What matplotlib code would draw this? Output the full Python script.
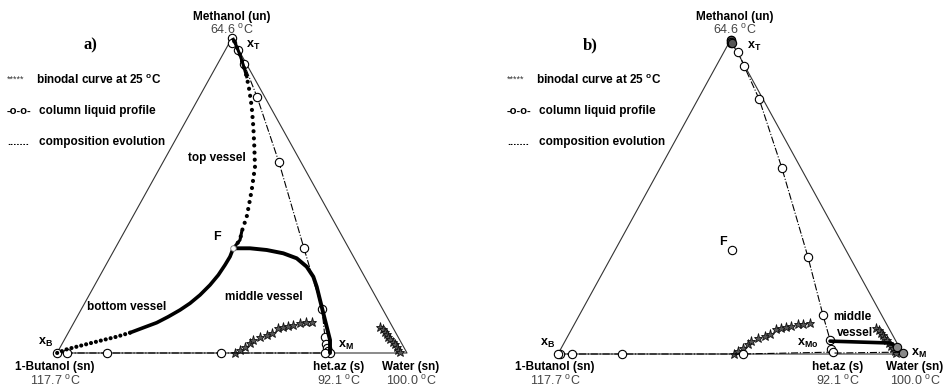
import numpy as np
import matplotlib.pyplot as plt

plt.rcParams['font.family'] = ['Liberation Sans', 'DejaVu Sans']
plt.rcParams['mathtext.fontset'] = 'custom'
plt.rcParams['mathtext.rm'] = 'Liberation Sans'
plt.rcParams['mathtext.bf'] = 'Liberation Sans:bold'

# compositions as (water, methanol) mole fractions, butanol = rest
binodal_org_w = [0.509, 0.518, 0.528, 0.535, 0.540, 0.556, 0.571, 0.583, 0.592, 0.604, 0.617, 0.630, 0.647, 0.662, 0.680]
binodal_org_m = [0.0, 0.0095, 0.019, 0.032, 0.041, 0.050, 0.057, 0.063, 0.079, 0.083, 0.086, 0.089, 0.095, 0.097, 0.098]
binodal_aq_w = [0.881, 0.893, 0.903, 0.912, 0.920, 0.931, 0.942, 0.952, 0.962, 0.970, 0.978]
binodal_aq_m = [0.083, 0.075, 0.067, 0.059, 0.051, 0.043, 0.035, 0.027, 0.019, 0.011, 0.003]

feed_w, feed_m = 0.3375, 0.3324

# panel a
prof_a_w = [0.0, 0.008, 0.036, 0.076, 0.165, 0.331, 0.539, 0.687, 0.740, 0.755, 0.765, 0.772, 0.78, 0.766, 0.469, 0.143, 0.029, 0.0]
prof_a_m = [1.0, 0.985, 0.962, 0.917, 0.813, 0.606, 0.333, 0.140, 0.051, 0.030, 0.015, 0.006, 0.0, 0.0, 0.0, 0.0, 0.0, 0.0]
top_a_w = [0.3375, 0.3435, 0.3352, 0.3257, 0.3118, 0.2976, 0.2700, 0.2363, 0.2017, 0.1653, 0.1320, 0.1034, 0.0751, 0.0499, 0.0272, 0.0057]
top_a_m = [0.3324, 0.3587, 0.3851, 0.4327, 0.4752, 0.5175, 0.5914, 0.6549, 0.7184, 0.7819, 0.8349, 0.8771, 0.9143, 0.9460, 0.9724, 0.9959]
bot_a_w = [0.3375, 0.3414, 0.3403, 0.3371, 0.3292, 0.3165, 0.3011, 0.2832, 0.2604, 0.2368, 0.2064, 0.1764]
bot_a_m = [0.3324, 0.3057, 0.2794, 0.2476, 0.2159, 0.1841, 0.1578, 0.1365, 0.1152, 0.0962, 0.0803, 0.0644]
bot_a_tail_w = [0.1764, 0.1447, 0.1116, 0.0789, 0.0463, 0.0219, 0.0]
bot_a_tail_m = [0.0644, 0.0517, 0.0413, 0.0308, 0.0200, 0.0117, 0.0]
mid_a_w = [0.3375, 0.3852, 0.4356, 0.4883, 0.5346, 0.5764, 0.6112, 0.6368, 0.6673, 0.6979, 0.7288, 0.7594, 0.78]
mid_a_m = [0.3324, 0.3324, 0.3270, 0.3165, 0.3006, 0.2740, 0.2422, 0.2105, 0.1683, 0.1260, 0.0835, 0.0413, 0.0]

# panel b
prof_b_w = [0.0, 0.005, 0.041, 0.081, 0.177, 0.353, 0.570, 0.706, 0.766, 0.785, 0.794, 0.536, 0.186, 0.041, 0.005, 0.0]
prof_b_m = [1.0, 0.99, 0.962, 0.917, 0.812, 0.592, 0.309, 0.124, 0.045, 0.015, 0.006, 0.0, 0.0, 0.0, 0.0, 0.0]
prof_b_aq_w = [0.80, 0.99]
prof_b_aq_m = [0.003, 0.006]
mid_b_w = [0.768, 0.856, 0.945, 0.972, 0.998]
mid_b_m = [0.041, 0.038, 0.035, 0.022, 0.003]
top_b_w = [0.0, 0.004, 0.008]
top_b_m = [1.0, 0.994, 0.99]

H = np.sqrt(3) / 2


def xy(w, m):
    w = np.asarray(w, float)
    m = np.asarray(m, float)
    return w + m / 2, m * H


W, Hpx = 945, 390
fig = plt.figure(figsize=(W / 100, Hpx / 100), dpi=100)


def fpos(px, py):
    return px / W, 1 - py / Hpx


def sub(base, s):
    return base + r'$_\mathbf{' + s + '}$'


deg = r'$^\mathrm{o}$C'
degb = r'$^\mathbf{o}$C'


def panel(box, tag, tagx, legx, labx):
    l, t, r, b = box
    ax = fig.add_axes([l / W, 1 - b / Hpx, (r - l) / W, (b - t) / Hpx])
    ax.set_xlim(0, 1)
    ax.set_ylim(0, H)
    ax.axis('off')
    ax.plot([0, 1, 0.5, 0], [0, 0, H, 0], color='#333333', lw=0.8, clip_on=False)
    for bw, bm in [(binodal_org_w, binodal_org_m), (binodal_aq_w, binodal_aq_m)]:
        x, y = xy(bw, bm)
        ax.plot(x, y, ls='none', marker='*', ms=6.5, color='#555555', mec='#111111', mew=0.6, clip_on=False)

    fig.text(*fpos(tagx, 45), tag, fontsize=12, fontweight='bold', family='Liberation Serif', ha='center', va='center')
    fig.text(*fpos(legx, 79), '*****', fontsize=6.5, color='#333333', va='center')
    fig.text(*fpos(legx + 29, 80), 'binodal curve at 25 ' + degb, fontsize=8.5, fontweight='bold', va='center')
    fig.text(*fpos(legx, 111), '-o-o-', fontsize=8, fontweight='bold', va='center')
    fig.text(*fpos(legx + 32, 111), 'column liquid profile', fontsize=8.5, fontweight='bold', va='center')
    fig.text(*fpos(legx, 142), '.......', fontsize=8, fontweight='bold', va='center')
    fig.text(*fpos(legx + 32, 142), 'composition evolution', fontsize=8.5, fontweight='bold', va='center')

    cm, cb, ch, cw = labx
    fig.text(*fpos(cm, 17), 'Methanol (un)', fontsize=8.5, fontweight='bold', ha='center', va='center')
    fig.text(*fpos(cm, 30), '64.6 ' + deg, fontsize=9, color='#444444', ha='center', va='center')
    for cx, name, temp in [(cb, '1-Butanol (sn)', '117.7 '), (ch, 'het.az (s)', '92.1 '), (cw, 'Water (sn)', '100.0 ')]:
        fig.text(*fpos(cx, 367), name, fontsize=8.5, fontweight='bold', ha='center', va='center')
        fig.text(*fpos(cx, 381), temp + deg, fontsize=9, color='#444444', ha='center', va='center')
    return ax


circ = dict(marker='o', ms=6, mfc='white', mec='black', mew=0.8)

# ---- a) ----
ax = panel((57, 38, 407, 353), 'a)', 90, 7, (232, 55, 339, 411))
x, y = xy(prof_a_w, prof_a_m)
ax.plot(x, y, color='black', lw=0.8, ls='-.', clip_on=False, **circ)
x, y = xy(top_a_w, top_a_m)
ax.plot(x, y, color='black', lw=3, ls=(0, (0.01, 1.7)), dash_capstyle='round', clip_on=False)
x, y = xy(top_a_w[-5:], top_a_m[-5:])
ax.plot(x, y, color='black', lw=2.2, clip_on=False)
x, y = xy(top_a_w[:3], top_a_m[:3])
ax.plot(x, y, color='black', lw=2.2, clip_on=False)
x, y = xy(bot_a_w, bot_a_m)
ax.plot(x, y, color='black', lw=2.6, solid_capstyle='round', clip_on=False)
x, y = xy(bot_a_tail_w, bot_a_tail_m)
ax.plot(x, y, color='black', lw=3, ls=(0, (0.01, 1.2)), dash_capstyle='round', clip_on=False)
x, y = xy(mid_a_w, mid_a_m)
ax.plot(x, y, color='black', lw=2.8, solid_capstyle='round', clip_on=False)
x, y = xy([feed_w], [feed_m])
ax.plot(x, y, ls='none', marker='o', ms=4, mfc='white', mec='#777777', mew=0.6, clip_on=False)

fig.text(*fpos(217, 237), 'F', fontsize=9, fontweight='bold', ha='center', va='center')
fig.text(*fpos(246, 45), sub('x', 'T'), fontsize=9, fontweight='bold', va='center')
fig.text(*fpos(38, 342), sub('x', 'B'), fontsize=9, fontweight='bold', va='center')
fig.text(*fpos(338, 345), sub('x', 'M'), fontsize=9, fontweight='bold', va='center')
fig.text(*fpos(217, 158), 'top vessel', fontsize=8.5, fontweight='bold', ha='center', va='center')
fig.text(*fpos(127, 307), 'bottom vessel', fontsize=8.5, fontweight='bold', ha='center', va='center')
fig.text(*fpos(264, 297), 'middle vessel', fontsize=8.5, fontweight='bold', ha='center', va='center')

# ---- b) ----
ax = panel((558, 40, 903, 354), 'b)', 590, 507, (735, 555, 838, 915))
x, y = xy(prof_b_w, prof_b_m)
ax.plot(x, y, color='black', lw=0.8, ls='-.', clip_on=False, **circ)
x, y = xy(prof_b_aq_w, prof_b_aq_m)
ax.plot(x, y, color='black', lw=0.8, ls='-.', clip_on=False)
x, y = xy(mid_b_w, mid_b_m)
ax.plot(x, y, color='black', lw=2.6, solid_capstyle='round', clip_on=False)
x, y = xy(mid_b_w[-2:], mid_b_m[-2:])
ax.plot(x, y, ls='none', marker='o', ms=6, mfc='#888888', mec='black', mew=0.8, clip_on=False)
x, y = xy(top_b_w, top_b_m)
ax.plot(x, y, ls='none', marker='o', ms=6, mfc='#555555', mec='black', mew=0.8, clip_on=False)
x, y = xy([feed_w], [feed_m])
ax.plot(x, y, ls='none', clip_on=False, **circ)

fig.text(*fpos(723, 242), 'F', fontsize=9, fontweight='bold', ha='center', va='center')
fig.text(*fpos(747, 46), sub('x', 'T'), fontsize=9, fontweight='bold', va='center')
fig.text(*fpos(540, 343), sub('x', 'B'), fontsize=9, fontweight='bold', va='center')
fig.text(*fpos(797, 343), sub('x', 'Mo'), fontsize=9, fontweight='bold', va='center')
fig.text(*fpos(911, 353), sub('x', 'M'), fontsize=9, fontweight='bold', va='center')
fig.text(*fpos(852, 317), 'middle', fontsize=8.5, fontweight='bold', ha='center', va='center')
fig.text(*fpos(855, 333), 'vessel', fontsize=8.5, fontweight='bold', ha='center', va='center')

fig.savefig('out.png', dpi=100)
